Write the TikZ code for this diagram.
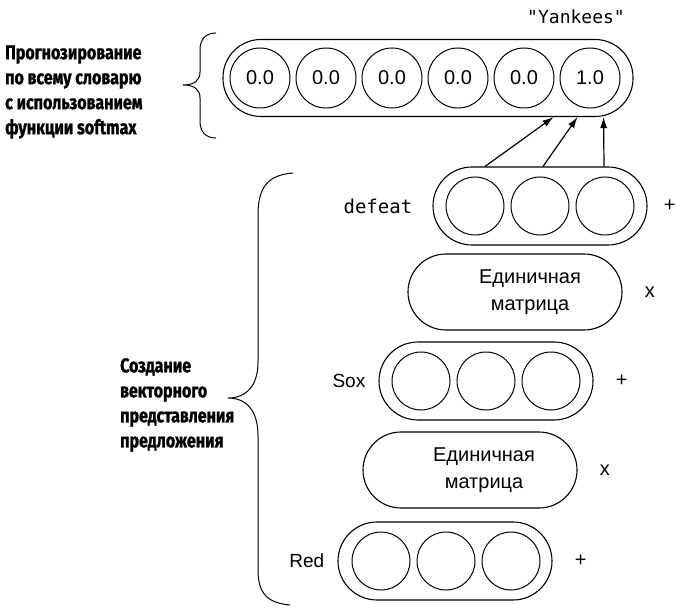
\documentclass[tikz,border=0pt]{standalone}
\usepackage{fontspec}
\setmainfont{Liberation Sans}
\setmonofont{DejaVu Sans Mono}
\newfontfamily\notefont{Fira Sans}[FakeStretch=0.8, BoldFeatures={FakeBold=1.2}]
\usetikzlibrary{positioning,calc,arrows.meta}
\tikzset{>={Latex[length=11pt,width=7pt]}}
\tikzset{
  vecbox/.style={draw, line width=1.1pt, rounded corners=39pt,
    minimum width=214pt, minimum height=78pt, inner sep=0pt},
  unitcirc/.style={draw, circle, line width=1pt, minimum size=58pt,
    inner sep=0pt, font=\fontsize{20}{24}\selectfont},
  matbox/.style={draw, line width=1.1pt, rounded corners=38pt,
    minimum width=214pt, minimum height=76pt, inner sep=0pt},
  mattext/.style={align=center, inner sep=0pt, font=\fontsize{20}{27}\selectfont},
  wordlab/.style={inner sep=0pt, font=\ttfamily\fontsize{19}{22}\selectfont},
  toklab/.style={inner sep=0pt, font=\fontsize{19}{22}\selectfont},
  oplab/.style={inner sep=0pt, font=\fontsize{20}{24}\selectfont},
  notelab/.style={inner sep=0pt, align=left, anchor=west,
    font=\notefont\bfseries\fontsize{20}{25}\selectfont},
}
\begin{document}
\begin{tikzpicture}[x=1pt, y=-1pt]
  \useasboundingbox (0,0) rectangle (676,609);

  % softmax output over the vocabulary
  \node[vecbox, minimum width=410pt, minimum height=77pt, rounded corners=38pt] (tvec) at (428,78) {};
  \foreach \v [count=\i] in {0.0,0.0,0.0,0.0,0.0,1.0}
    \node[unitcirc, minimum size=60pt] (t\i) at (194+66*\i,78) {\v};
  \node[wordlab, font=\ttfamily\fontsize{18}{22}\selectfont] (yank) at (576,17) {"Yankees"};

  % sentence vectors and identity matrices
  \node[vecbox] (dvec) at (540,206) {};
  \foreach \i in {1,2,3}
    \node[unitcirc] (d\i) at (475+65*\i-65,206) {};
  \node[wordlab, left=20pt of dvec] (dword) {defeat};
  \node[oplab, right=16pt of dvec] (dplus) {+};

  \node[matbox] (im1) at (515,292) {};
  \node[mattext] (im1t) at (530,292) {Единичная\\матрица};
  \node[oplab, right=22pt of im1] (im1x) {x};

  \node[vecbox] (svec) at (486,381) {};
  \foreach \i in {1,2,3}
    \node[unitcirc] (s\i) at (421+65*\i-65,381) {};
  \node[toklab, left=13pt of svec] (sword) {Sox};
  \node[oplab, right=22pt of svec] (splus) {+};

  \node[matbox] (im2) at (470,470) {};
  \node[mattext] (im2t) at (484,470) {Единичная\\матрица};
  \node[oplab, right=22pt of im2] (im2x) {x};

  \node[vecbox] (rvec) at (445,561) {};
  \foreach \i in {1,2,3}
    \node[unitcirc] (r\i) at (381+65*\i-65,561) {};
  \node[toklab, left=13pt of rvec] (rword) {Red};
  \node[oplab, right=22pt of rvec] (rplus) {+};

  \foreach \a/\b in {-55/-80, 3/-56, 64/-30}
    \draw[->, line width=1.2pt] ($(dvec.north)+(\a,0)$) -- ($(tvec.south east)+(\b,0)$);

  % braces and notes
  \draw[line width=1pt] (216,33) .. controls (205,33) and (200,40) .. (200,50) -- (200,72)
    .. controls (200,80) and (195,85) .. (183,85) .. controls (195,85) and (200,90) .. (200,98)
    -- (200,121) .. controls (200,131) and (205,138) .. (216,138);
  \draw[line width=1pt] (293,173) .. controls (268,175) and (258,187) .. (258,215) -- (258,362)
    .. controls (258,386) and (246,398) .. (228,398) .. controls (246,398) and (258,410) .. (258,436)
    -- (258,570) .. controls (258,594) and (268,603) .. (290,605);
  \node[notelab] (note1) at (5,92) {Прогнозирование\\по всему словарю\\с использованием\\функции softmax};
  \node[notelab] (note2) at (120,405) {Создание\\векторного\\представления\\предложения};
\end{tikzpicture}
\end{document}
